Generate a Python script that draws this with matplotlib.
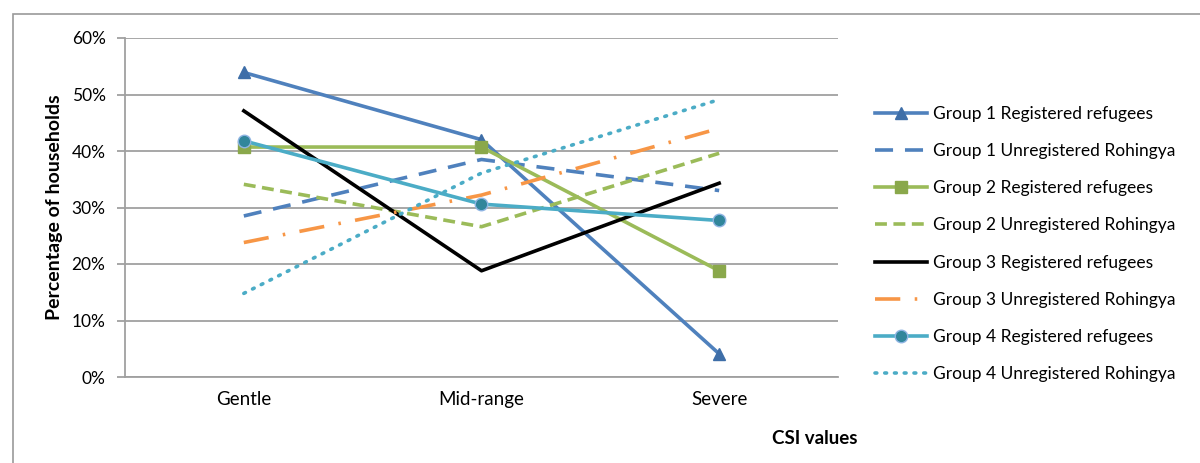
import matplotlib.pyplot as plt
from matplotlib.patches import Rectangle
from matplotlib.ticker import PercentFormatter

plt.rcParams['font.family'] = ['Lato', 'DejaVu Sans']

categories = ['Gentle', 'Mid-range', 'Severe']
labels = ['Group 1 Registered refugees', 'Group 1 Unregistered Rohingya',
          'Group 2 Registered refugees', 'Group 2 Unregistered Rohingya',
          'Group 3 Registered refugees', 'Group 3 Unregistered Rohingya',
          'Group 4 Registered refugees', 'Group 4 Unregistered Rohingya']
g1_reg = [53.9, 42.0, 4.1]
g1_unreg = [28.5, 38.5, 33.0]
g2_reg = [40.7, 40.7, 18.8]
g2_unreg = [34.1, 26.6, 39.6]
g3_reg = [47.1, 18.8, 34.3]
g3_unreg = [23.8, 32.2, 44.0]
g4_reg = [41.8, 30.6, 27.7]
g4_unreg = [14.8, 36.1, 49.1]

series = [g1_reg, g1_unreg, g2_reg, g2_unreg, g3_reg, g3_unreg, g4_reg, g4_unreg]
styles = [
    dict(color='#4F81BD', ls='-', marker='^', ms=9, mfc='#3E6EA8', mec='#3E6EA8'),
    dict(color='#4F81BD', ls=(0, (5, 3.3))),
    dict(color='#9BBB59', ls='-', marker='s', ms=8, mfc='#8AA84B', mec='#8AA84B'),
    dict(color='#9BBB59', ls=(0, (3.3, 1.8))),
    dict(color='#000000', ls='-'),
    dict(color='#F79646', ls=(0, (7, 4, 0.7, 4))),
    dict(color='#4BACC6', ls='-', marker='o', ms=9, mfc='#31869B', mec='#8EB4E3'),
    dict(color='#4BACC6', ls=(0, (0.5, 2.2)), dash_capstyle='round'),
]

fig = plt.figure(figsize=(12, 4.63), dpi=100)
fig.patches.append(Rectangle((13 / 1200, -0.1), 1.2, 1 - 14 / 463 + 0.1,
                             transform=fig.transFigure, fill=False,
                             edgecolor='#9a9a9a', lw=1.2))
ax = fig.add_axes([125 / 1200, 1 - 377 / 463, 713 / 1200, 339 / 463])

x = range(len(categories))
for vals, st, lab in zip(series, styles, labels):
    ax.plot(x, vals, lw=2.6, label=lab, **st)

ax.set_xlim(-0.5, 2.5)
ax.set_ylim(0, 60)
ax.set_yticks(range(0, 61, 10))
ax.yaxis.set_major_formatter(PercentFormatter(decimals=0))
ax.set_xticks(list(x))
ax.set_xticklabels(categories)
ax.grid(axis='y', color='#a0a0a0', lw=1.3)
ax.set_axisbelow(True)
for s in ['top', 'right']:
    ax.spines[s].set_visible(False)
for s in ['left', 'bottom']:
    ax.spines[s].set_color('#a0a0a0')
    ax.spines[s].set_linewidth(1.3)
ax.tick_params(axis='y', length=6, color='#a0a0a0', width=1.3, labelsize=12.5, pad=8)
ax.tick_params(axis='x', length=0, labelsize=13.5, pad=10)
ax.set_ylabel('Percentage of households', fontsize=14, fontweight='bold', labelpad=6)
fig.text(815 / 1200, 1 - 438 / 463, 'CSI values', fontsize=13.5, fontweight='bold',
         ha='center', va='center')

ax.legend(loc='upper left', bbox_to_anchor=(868 / 1200, 1 - 99 / 463),
          bbox_transform=fig.transFigure, frameon=False, fontsize=12.5,
          handlelength=3.0, handletextpad=0.35, labelspacing=1.22, borderaxespad=0)

fig.savefig('out.png', dpi=100)
